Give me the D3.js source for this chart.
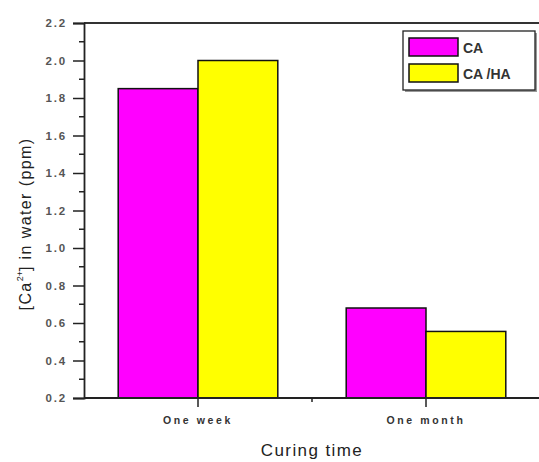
<!DOCTYPE html>
<html>
<head>
<meta charset="utf-8">
<script src="https://cdn.jsdelivr.net/npm/d3@7"></script>
<style>
  html, body { margin: 0; padding: 0; background: #fff; }
  svg { display: block; }
</style>
</head>
<body>
<script>
// Calcium released into water after curing
const categories = ["One week", "One month"];
const seriesNames = ["CA", "CA /HA"];
const seriesColors = ["#ff00ff", "#ffff00"];
const valuesCA = [1.85, 0.68];
const valuesCAHA = [2.0, 0.555];
const yTicks = [0.2, 0.4, 0.6, 0.8, 1.0, 1.2, 1.4, 1.6, 1.8, 2.0, 2.2];

const W = 539, H = 462;
const margin = { left: 84, top: 23, right: -1, bottom: 64 };
const FONT = "Arial, 'Liberation Sans', sans-serif";

const svg = d3.select("body").append("svg")
  .attr("width", W).attr("height", H);

const x = d3.scaleBand()
  .domain(categories)
  .range([margin.left, W - margin.right])
  .paddingInner(0.3)
  .paddingOuter(0.15);

const xs = d3.scaleBand()
  .domain(seriesNames)
  .range([0, x.bandwidth()])
  .padding(0);

const y = d3.scaleLinear()
  .domain([0.2, 2.2])
  .range([H - margin.bottom, margin.top]);

const data = categories.map((c, i) => ({
  cat: c,
  vals: [valuesCA[i], valuesCAHA[i]]
}));

// Bars
const groups = svg.append("g").selectAll("g")
  .data(data).join("g")
  .attr("transform", d => `translate(${x(d.cat)},0)`);

groups.selectAll("rect")
  .data(d => d.vals.map((v, k) => ({ v, k })))
  .join("rect")
  .attr("x", d => xs(seriesNames[d.k]))
  .attr("y", d => y(d.v))
  .attr("width", xs.bandwidth())
  .attr("height", d => y(0.2) - y(d.v))
  .attr("fill", d => seriesColors[d.k])
  .attr("stroke", "#111")
  .attr("stroke-width", 1.5);

// Frame: top edge
svg.append("line")
  .attr("x1", margin.left).attr("x2", W + 2)
  .attr("y1", y(2.2)).attr("y2", y(2.2))
  .attr("stroke", "#333").attr("stroke-width", 1.8);

// Y axis with major and minor ticks
const yAxis = d3.axisLeft(y)
  .tickValues(yTicks)
  .tickFormat(d3.format(".1f"))
  .tickSize(11)
  .tickPadding(6);
const gy = svg.append("g")
  .attr("transform", `translate(${margin.left},0)`)
  .call(yAxis);
gy.select(".domain").attr("stroke", "#222").attr("stroke-width", 1.8);
gy.selectAll(".tick line").attr("stroke", "#222").attr("stroke-width", 1.5);
gy.selectAll(".tick text")
  .attr("font-family", FONT)
  .attr("font-size", 11.5)
  .attr("font-weight", "bold")
  .attr("letter-spacing", "1.8px")
  .attr("fill", "#555");

const minorY = d3.range(0, yTicks.length - 1).map(i => (yTicks[i] + yTicks[i + 1]) / 2);
svg.append("g").selectAll("line")
  .data(minorY).join("line")
  .attr("x1", margin.left - 5).attr("x2", margin.left)
  .attr("y1", d => y(d)).attr("y2", d => y(d))
  .attr("stroke", "#222").attr("stroke-width", 1.5);

// X axis
const xAxis = d3.axisBottom(x).tickSize(9).tickPadding(10);
const gx = svg.append("g")
  .attr("transform", `translate(0,${y(0.2)})`)
  .call(xAxis);
gx.select(".domain").attr("stroke", "#222").attr("stroke-width", 1.8)
  .attr("d", `M${margin.left},0H${W + 2}`);
gx.selectAll(".tick line").attr("stroke", "#222").attr("stroke-width", 1.5);
gx.selectAll(".tick text")
  .attr("font-family", FONT)
  .attr("font-size", 10.5)
  .attr("font-weight", "bold")
  .attr("letter-spacing", "2.6px")
  .attr("fill", "#333");

// minor tick between categories
const midX = (x(categories[0]) + x.bandwidth() / 2 + x(categories[1]) + x.bandwidth() / 2) / 2;
svg.append("line")
  .attr("x1", midX).attr("x2", midX)
  .attr("y1", y(0.2)).attr("y2", y(0.2) + 4)
  .attr("stroke", "#222").attr("stroke-width", 1.5);

// Axis titles
svg.append("text")
  .attr("x", 312).attr("y", 456)
  .attr("text-anchor", "middle")
  .attr("font-family", FONT)
  .attr("font-size", 17)
  .attr("letter-spacing", "1.4px")
  .attr("fill", "#222")
  .text("Curing time");

const yt = svg.append("text")
  .attr("transform", "translate(31,224) rotate(-90)")
  .attr("text-anchor", "middle")
  .attr("font-family", FONT)
  .attr("font-size", 16)
  .attr("letter-spacing", "1.4px")
  .attr("fill", "#222");
yt.append("tspan").text("[Ca");
yt.append("tspan").attr("font-size", 9).attr("letter-spacing", "0px").attr("dy", -8).text("2+");
yt.append("tspan").attr("dy", 8).text("] in water (ppm)");

// Legend
const lg = svg.append("g");
lg.append("rect")
  .attr("x", 405).attr("y", 33).attr("width", 132).attr("height", 59)
  .attr("fill", "#999");
lg.append("rect")
  .attr("x", 403).attr("y", 31).attr("width", 132).attr("height", 59)
  .attr("fill", "#fff").attr("stroke", "#222").attr("stroke-width", 1.3);
const items = lg.selectAll("g.item")
  .data(seriesNames).join("g")
  .attr("class", "item")
  .attr("transform", (d, i) => `translate(409,${38 + i * 26})`);
items.append("rect")
  .attr("width", 49).attr("height", 18)
  .attr("fill", (d, i) => seriesColors[i])
  .attr("stroke", "#111").attr("stroke-width", 1.5);
items.append("text")
  .attr("x", 54).attr("y", 15)
  .attr("font-family", FONT)
  .attr("font-size", 14)
  .attr("font-weight", "bold")
  .attr("fill", "#333")
  .text(d => d);
</script>
</body>
</html>
